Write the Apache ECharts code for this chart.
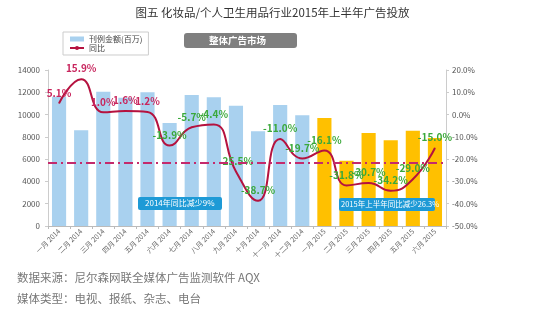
<!DOCTYPE html>
<html><head><meta charset="utf-8">
<script src="https://cdn.jsdelivr.net/npm/echarts@6/dist/echarts.min.js"></script>
<style>html,body{margin:0;padding:0;background:#fff}#c{width:545px;height:325px}</style>
</head><body><div id="c"></div>
<script>
const categories = ['一月 2014','二月 2014','三月 2014','四月 2014','五月 2014','六月 2014','七月 2014','八月 2014','九月 2014','十月 2014','十一月 2014','十二月 2014','一月 2015','二月 2015','三月 2015','四月 2015','五月 2015','六月 2015'];
const spend = [11600, 8600, 12050, 11500, 12000, 9250, 11750, 11550, 10800, 8500, 10850, 9950, 9700, 5850, 8350, 7700, 8550, 7900];
const yoy = [5.1, 15.9, 1.0, 1.6, 1.2, -13.9, -5.7, -4.4, -25.5, -38.7, -11.0, -19.7, -16.1, -31.8, -30.7, -34.2, -29.0, -15.0];
const avgLine = -21.4;
const year2015Start = 12;
const leftTicks = {min: 0, max: 14000, interval: 2000};
const rightTicks = {min: -50, max: 20, interval: 10};

const chart = echarts.init(document.getElementById('c'));
const font = '"Noto Sans CJK SC","Noto Sans",sans-serif';
chart.setOption({
  animation: false,
  textStyle: {fontFamily: font},
  title: {text: '图五 化妆品/个人卫生用品行业2015年上半年广告投放', left: 'center', top: 2,
    textStyle: {fontSize: 11.5, fontWeight: 'normal', color: '#333', fontFamily: font}},
  legend: {
    left: 63, top: 32, orient: 'vertical', itemGap: 1, itemWidth: 14, itemHeight: 5,
    padding: [3, 6, 3, 6], borderColor: '#ccc', borderWidth: 1,
    textStyle: {fontSize: 8, color: '#444'},
    data: [{name: '刊例金额(百万)', icon: 'rect'}, {name: '同比'}]
  },
  grid: {left: 48, right: 99, top: 70, bottom: 99},
  xAxis: {
    type: 'category', data: categories,
    axisLine: {lineStyle: {color: '#bbb'}},
    axisTick: {show: true, alignWithLabel: false, length: 3, lineStyle: {color: '#bbb'}},
    axisLabel: {rotate: 45, fontSize: 7, color: '#666', interval: 0, margin: 4}
  },
  yAxis: [
    {type: 'value', min: leftTicks.min, max: leftTicks.max, interval: leftTicks.interval,
     axisLine: {show: true, lineStyle: {color: '#ccc'}}, axisTick: {show: true, length: 3, lineStyle: {color: '#ccc'}},
     splitLine: {show: false}, axisLabel: {fontSize: 8, color: '#555', margin: 8, formatter: v => String(v)}},
    {type: 'value', min: rightTicks.min, max: rightTicks.max, interval: rightTicks.interval, position: 'right',
     axisLine: {show: true, lineStyle: {color: '#ccc'}}, axisTick: {show: true, length: 3, lineStyle: {color: '#ccc'}},
     splitLine: {show: false},
     axisLabel: {fontSize: 8, color: '#555', margin: 6, formatter: v => v.toFixed(1) + '%'}}
  ],
  series: [
    {name: '刊例金额(百万)', type: 'bar', barCategoryGap: '36%', z: 1,
     itemStyle: {color: '#a9d1ef'},
     data: spend.map((v, i) => ({value: v, itemStyle: {color: i >= year2015Start ? '#ffc000' : '#a9d1ef'}}))},
    {name: '同比', type: 'line', yAxisIndex: 1, smooth: 0.5, symbol: 'circle', symbolSize: 1, showSymbol: true, z: 3,
     itemStyle: {color: '#b5123f'}, lineStyle: {color: '#b5123f', width: 2},
     label: {show: true, position: 'top', distance: 5, fontSize: 10, fontWeight: 'bold',
       formatter: p => p.value.toFixed(1) + '%'},
     labelLayout: {hideOverlap: false},
     data: yoy.map(v => ({value: v, label: {color: v >= 0 ? '#c8265e' : '#3aa83a', offset: v >= 0 ? [0, 0] : [5, 0]}})),
     markLine: {silent: true, symbol: 'none', label: {show: false},
       lineStyle: {color: '#c42a6c', width: 2, type: [9, 4, 2, 4]},
       data: [{yAxis: avgLine}]}
    }
  ],
  graphic: [
    {type: 'rect', left: 184, top: 33, shape: {width: 113, height: 15, r: 3}, style: {fill: '#7f7f7f'}},
    {type: 'text', left: 209, top: 35.5, style: {text: '整体广告市场', fill: '#fff', fontSize: 9.5, fontWeight: 'bold', fontFamily: font}},
    {type: 'rect', left: 138, top: 197, z: 100, shape: {width: 84, height: 13, r: 2}, style: {fill: '#1e9ad6'}},
    {type: 'text', left: 145, top: 199, z: 101, style: {text: '2014年同比减少9%', fill: '#fff', fontSize: 8, fontFamily: font}},
    {type: 'rect', left: 339, top: 198, z: 100, shape: {width: 96, height: 13, r: 2}, style: {fill: '#1e9ad6'}},
    {type: 'text', left: 341, top: 200.5, z: 101, style: {text: '2015年上半年同比减少26.3%', fill: '#fff', fontSize: 7.5, fontFamily: font}},
    {type: 'text', left: 17, top: 272, style: {text: '数据来源：尼尔森网联全媒体广告监测软件 AQX', fill: '#777', fontSize: 11.5, fontFamily: font}},
    {type: 'text', left: 17, top: 293, style: {text: '媒体类型：电视、报纸、杂志、电台', fill: '#777', fontSize: 11.5, fontFamily: font}}
  ]
});
</script></body></html>
